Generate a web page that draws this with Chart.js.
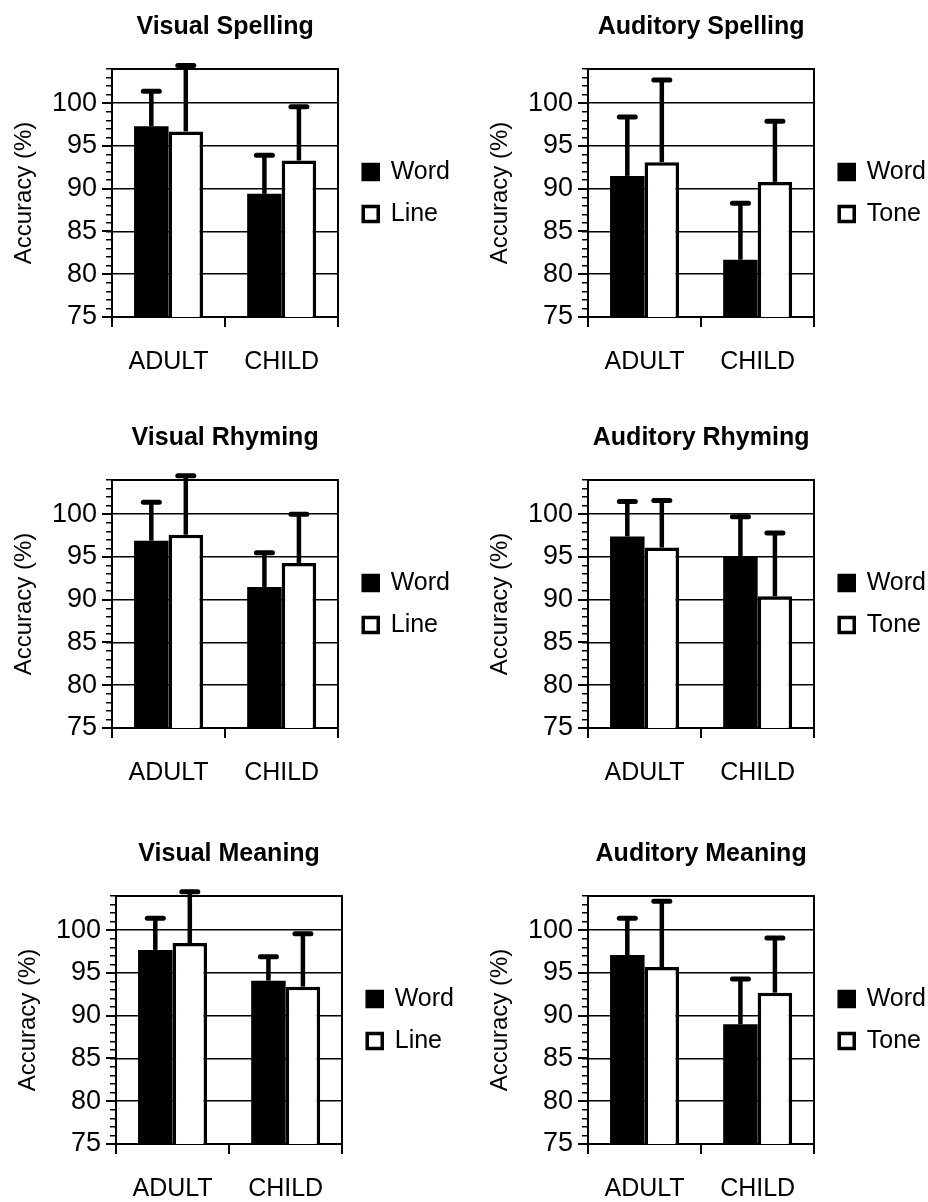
<!DOCTYPE html>
<html>
<head>
<meta charset="utf-8">
<script src="https://cdn.jsdelivr.net/npm/chart.js@4/dist/chart.umd.min.js"></script>
<style>
  html, body { margin: 0; padding: 0; background: #fff; overflow: hidden; }
  #wrap { position: relative; width: 928px; height: 1202px; overflow: hidden; }
  #wrap canvas { position: absolute; }
</style>
</head>
<body>
<div id="wrap"></div>
<script>
// accuracy (%) data: bar = mean, error = SD (upward only)
const categories = ['ADULT', 'CHILD'];
const panelTitles = ['Visual Spelling', 'Auditory Spelling', 'Visual Rhyming', 'Auditory Rhyming', 'Visual Meaning', 'Auditory Meaning'];
const visualSeries = ['Word', 'Line'];
const auditorySeries = ['Word', 'Tone'];
const yTickLabels = [75, 80, 85, 90, 95, 100];
const yMin = 75;
const yMax = 104;

const visualSpellingWord = [97.3, 89.4];
const visualSpellingLine = [96.7, 93.3];
const visualSpellingWordSD = [4.1, 4.5];
const visualSpellingLineSD = [7.7, 6.3];

const auditorySpellingWord = [91.5, 81.7];
const auditorySpellingTone = [93.1, 90.8];
const auditorySpellingWordSD = [6.9, 6.6];
const auditorySpellingToneSD = [9.6, 7.1];

const visualRhymingWord = [96.9, 91.5];
const visualRhymingLine = [97.6, 94.3];
const visualRhymingWordSD = [4.5, 4.0];
const visualRhymingLineSD = [6.9, 5.7];

const auditoryRhymingWord = [97.4, 95.0];
const auditoryRhymingTone = [96.1, 90.4];
const auditoryRhymingWordSD = [4.1, 4.7];
const auditoryRhymingToneSD = [5.5, 7.4];

const visualMeaningWord = [97.7, 94.1];
const visualMeaningLine = [98.5, 93.4];
const visualMeaningWordSD = [3.7, 2.8];
const visualMeaningLineSD = [6.0, 6.2];

const auditoryMeaningWord = [97.1, 89.0];
const auditoryMeaningTone = [95.7, 92.7];
const auditoryMeaningWordSD = [4.3, 5.3];
const auditoryMeaningToneSD = [7.7, 6.4];

// ==============================
// panel layout (canvas placement on the page)
// ==============================
const panelBoxes = [
  { left: 4, top: 0 }, { left: 480, top: 0 },
  { left: 4, top: 411 }, { left: 480, top: 411 },
  { left: 8, top: 827 }, { left: 480, top: 827 }
];
const canvasH = 377;
const plotW = 226;
const fontFamily = "'Liberation Sans', Arial, Helvetica, sans-serif";
const legendFont = 25;
const legendBox = 15;
const legendPad = 17;

const panels = [
  { names: visualSeries, a: visualSpellingWord, b: visualSpellingLine, sdA: visualSpellingWordSD, sdB: visualSpellingLineSD },
  { names: auditorySeries, a: auditorySpellingWord, b: auditorySpellingTone, sdA: auditorySpellingWordSD, sdB: auditorySpellingToneSD },
  { names: visualSeries, a: visualRhymingWord, b: visualRhymingLine, sdA: visualRhymingWordSD, sdB: visualRhymingLineSD },
  { names: auditorySeries, a: auditoryRhymingWord, b: auditoryRhymingTone, sdA: auditoryRhymingWordSD, sdB: auditoryRhymingToneSD },
  { names: visualSeries, a: visualMeaningWord, b: visualMeaningLine, sdA: visualMeaningWordSD, sdB: visualMeaningLineSD },
  { names: auditorySeries, a: auditoryMeaningWord, b: auditoryMeaningTone, sdA: auditoryMeaningWordSD, sdB: auditoryMeaningToneSD }
];

Chart.defaults.font.family = fontFamily;
Chart.defaults.color = '#000';

// legend width the same way Chart.js measures it, so the plot area keeps its size
const measureCtx = document.createElement('canvas').getContext('2d');
measureCtx.font = legendFont + 'px ' + fontFamily;
const legendWidth = (names) =>
  legendPad + legendBox + legendFont / 2 + Math.max(...names.map(n => measureCtx.measureText(n).width)) + 10;

// upward SD bars with a rounded cap
const errorBars = {
  id: 'errorBars',
  afterDatasetsDraw(chart) {
    const ctx = chart.ctx;
    const yScale = chart.scales.y;
    ctx.save();
    ctx.strokeStyle = '#000';
    chart.data.datasets.forEach((ds, i) => {
      const meta = chart.getDatasetMeta(i);
      meta.data.forEach((bar, j) => {
        const yEnd = yScale.getPixelForValue(ds.data[j] + ds.sd[j]);
        ctx.lineWidth = 4.5;
        ctx.lineCap = 'butt';
        ctx.beginPath();
        ctx.moveTo(bar.x, bar.y);
        ctx.lineTo(bar.x, yEnd);
        ctx.stroke();
        ctx.lineWidth = 5;
        ctx.lineCap = 'round';
        ctx.beginPath();
        ctx.moveTo(bar.x - 8, yEnd);
        ctx.lineTo(bar.x + 8, yEnd);
        ctx.stroke();
      });
    });
    ctx.restore();
  }
};

// longer tick marks at the labelled values
const majorTicks = {
  id: 'majorTicks',
  afterDraw(chart) {
    const ctx = chart.ctx;
    const yScale = chart.scales.y;
    ctx.save();
    ctx.strokeStyle = '#000';
    ctx.lineWidth = 2;
    yTickLabels.forEach(v => {
      const y = Math.round(yScale.getPixelForValue(v));
      ctx.beginPath();
      ctx.moveTo(yScale.right - 10, y);
      ctx.lineTo(yScale.right, y);
      ctx.stroke();
    });
    ctx.restore();
  }
};

const wrap = document.getElementById('wrap');

panels.forEach((p, k) => {
  const canvas = document.createElement('canvas');
  canvas.width = Math.ceil(2 + 106 + plotW + 8 + legendWidth(p.names));
  canvas.height = canvasH;
  canvas.style.left = panelBoxes[k].left + 'px';
  canvas.style.top = panelBoxes[k].top + 'px';
  wrap.appendChild(canvas);

  new Chart(canvas.getContext('2d'), {
    type: 'bar',
    data: {
      labels: categories,
      datasets: [
        {
          label: p.names[0],
          data: p.a,
          sd: p.sdA,
          backgroundColor: '#000',
          borderColor: '#000',
          borderWidth: 0,
          borderSkipped: false
        },
        {
          label: p.names[1],
          data: p.b,
          sd: p.sdB,
          backgroundColor: '#fff',
          borderColor: '#000',
          borderWidth: 3.5,
          borderSkipped: false
        }
      ]
    },
    options: {
      responsive: false,
      animation: false,
      devicePixelRatio: 1,
      layout: { padding: { left: 2, right: 0, top: 0, bottom: 0 } },
      datasets: { bar: { categoryPercentage: 0.61, barPercentage: 1.0 } },
      plugins: {
        tooltip: { enabled: false },
        title: {
          display: true,
          text: panelTitles[k],
          fullSize: false,
          font: { size: 25, weight: 'bold' },
          padding: { top: 12, bottom: 27 }
        },
        legend: {
          position: 'right',
          fullSize: false,
          maxWidth: 300,
          labels: {
            boxWidth: legendBox,
            boxHeight: legendBox,
            padding: legendPad,
            font: { size: legendFont },
            generateLabels: (chart) =>
              Chart.defaults.plugins.legend.labels.generateLabels(chart).map(item =>
                Object.assign(item, { lineWidth: 3.5, strokeStyle: '#000' }))
          }
        }
      },
      scales: {
        x: {
          position: 'bottom',
          grid: { drawOnChartArea: false, color: '#000', lineWidth: 2, tickLength: 10 },
          border: { color: '#000', width: 2 },
          ticks: { font: { size: 25 }, padding: 20, maxRotation: 0 },
          afterFit: (scale) => { scale.height = 60; }
        },
        x2: {
          type: 'category',
          position: 'top',
          grid: { drawOnChartArea: false, drawTicks: false },
          border: { color: '#000', width: 2 },
          ticks: { display: false },
          afterFit: (scale) => { scale.height = 0; }
        },
        y: {
          min: yMin,
          max: yMax,
          grid: {
            color: (c) => (c.tick && yTickLabels.includes(c.tick.value) && c.tick.value > yMin ? '#000' : 'rgba(0,0,0,0)'),
            tickColor: '#000',
            lineWidth: 1.5,
            tickWidth: 1.5,
            tickLength: 6
          },
          border: { color: '#000', width: 2 },
          ticks: {
            stepSize: 1,
            autoSkip: false,
            padding: 9,
            font: { size: 27 },
            callback: (v) => (yTickLabels.includes(v) ? String(v) : '')
          },
          title: { display: true, text: 'Accuracy (%)', font: { size: 24 }, padding: { top: 4, bottom: 4 } },
          afterFit: (scale) => { scale.width = 106; }
        },
        y2: {
          type: 'linear',
          position: 'right',
          min: yMin,
          max: yMax,
          grid: { drawOnChartArea: false, drawTicks: false },
          border: { color: '#000', width: 2 },
          ticks: { display: false },
          afterFit: (scale) => { scale.width = 8; }
        }
      }
    },
    plugins: [errorBars, majorTicks]
  });
});
</script>
</body>
</html>
